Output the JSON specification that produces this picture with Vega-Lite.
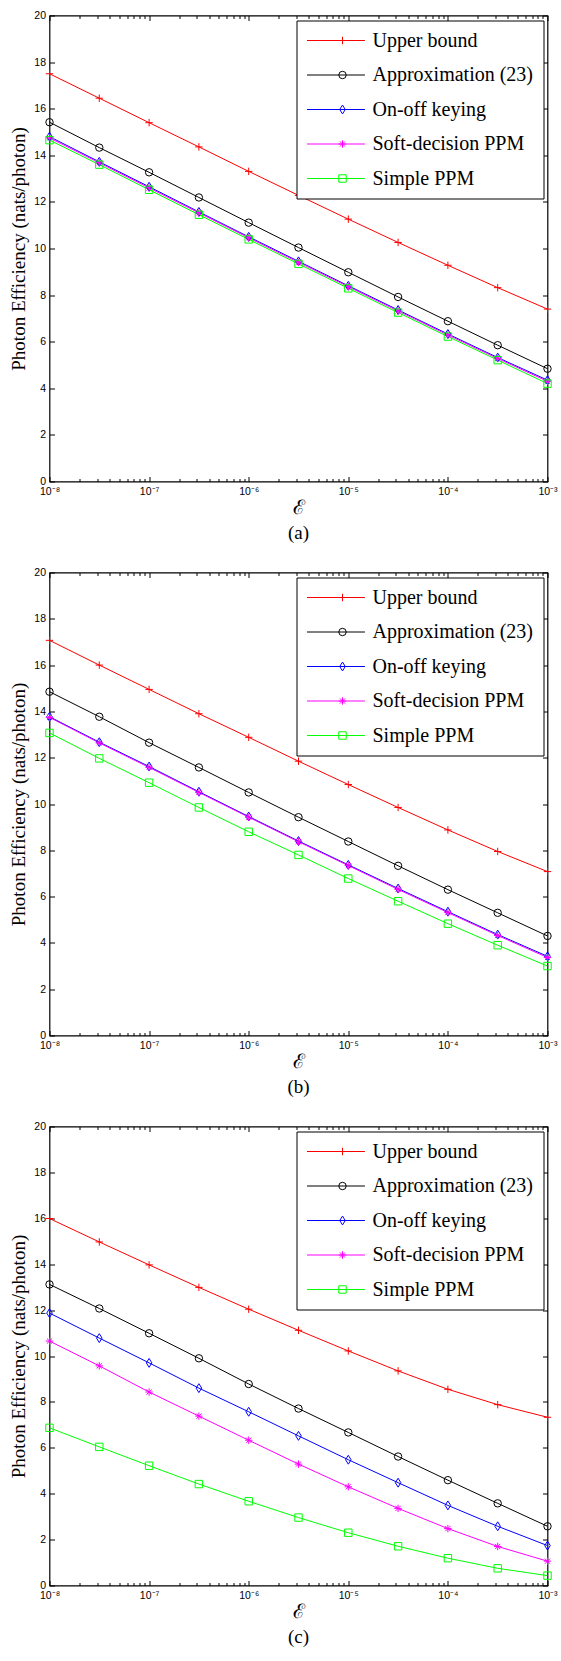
{
  "$schema": "https://vega.github.io/schema/vega-lite/v6.json",
  "padding": {"left": 8.5, "top": 9.5, "right": 0, "bottom": 0},
  "background": "white",
  "spacing": 22,
  "resolve": {
    "scale": {"color": "independent", "stroke": "independent", "shape": "independent"},
    "legend": {"color": "independent", "stroke": "independent", "shape": "independent"}
  },
  "config": {
    "view": {"stroke": "black", "strokeWidth": 1.2},
    "axis": {"labelFont": "Liberation Sans", "labelFontSize": 10.5, "labelColor": "black", "tickColor": "black", "tickWidth": 1, "domain": false, "grid": false, "titleColor": "black", "titleFontWeight": "normal", "labelFlush": false, "labelOverlap": false},
    "legend": {"labelLimit": 400, "titleLimit": 400}
  },
  "datasets": {
    "a": [
      {"e":1e-8,"v":17.5,"s":"Upper bound"},{"e":3.162e-8,"v":16.45,"s":"Upper bound"},{"e":1e-7,"v":15.4,"s":"Upper bound"},{"e":3.162e-7,"v":14.36,"s":"Upper bound"},{"e":1e-6,"v":13.31,"s":"Upper bound"},{"e":3.162e-6,"v":12.28,"s":"Upper bound"},{"e":1e-5,"v":11.26,"s":"Upper bound"},{"e":3.162e-5,"v":10.26,"s":"Upper bound"},{"e":1e-4,"v":9.28,"s":"Upper bound"},{"e":3.162e-4,"v":8.32,"s":"Upper bound"},{"e":1e-3,"v":7.4,"s":"Upper bound"},
      {"e":1e-8,"v":15.42,"s":"Approximation (23)"},{"e":3.162e-8,"v":14.33,"s":"Approximation (23)"},{"e":1e-7,"v":13.27,"s":"Approximation (23)"},{"e":3.162e-7,"v":12.19,"s":"Approximation (23)"},{"e":1e-6,"v":11.11,"s":"Approximation (23)"},{"e":3.162e-6,"v":10.04,"s":"Approximation (23)"},{"e":1e-5,"v":8.98,"s":"Approximation (23)"},{"e":3.162e-5,"v":7.92,"s":"Approximation (23)"},{"e":1e-4,"v":6.88,"s":"Approximation (23)"},{"e":3.162e-4,"v":5.85,"s":"Approximation (23)"},{"e":1e-3,"v":4.84,"s":"Approximation (23)"},
      {"e":1e-8,"v":14.8,"s":"On-off keying"},{"e":3.162e-8,"v":13.72,"s":"On-off keying"},{"e":1e-7,"v":12.65,"s":"On-off keying"},{"e":3.162e-7,"v":11.57,"s":"On-off keying"},{"e":1e-6,"v":10.5,"s":"On-off keying"},{"e":3.162e-6,"v":9.45,"s":"On-off keying"},{"e":1e-5,"v":8.4,"s":"On-off keying"},{"e":3.162e-5,"v":7.36,"s":"On-off keying"},{"e":1e-4,"v":6.33,"s":"On-off keying"},{"e":3.162e-4,"v":5.32,"s":"On-off keying"},{"e":1e-3,"v":4.35,"s":"On-off keying"},
      {"e":1e-8,"v":14.75,"s":"Soft-decision PPM"},{"e":3.162e-8,"v":13.68,"s":"Soft-decision PPM"},{"e":1e-7,"v":12.6,"s":"Soft-decision PPM"},{"e":3.162e-7,"v":11.53,"s":"Soft-decision PPM"},{"e":1e-6,"v":10.46,"s":"Soft-decision PPM"},{"e":3.162e-6,"v":9.41,"s":"Soft-decision PPM"},{"e":1e-5,"v":8.36,"s":"Soft-decision PPM"},{"e":3.162e-5,"v":7.32,"s":"Soft-decision PPM"},{"e":1e-4,"v":6.29,"s":"Soft-decision PPM"},{"e":3.162e-4,"v":5.28,"s":"Soft-decision PPM"},{"e":1e-3,"v":4.3,"s":"Soft-decision PPM"},
      {"e":1e-8,"v":14.65,"s":"Simple PPM"},{"e":3.162e-8,"v":13.6,"s":"Simple PPM"},{"e":1e-7,"v":12.52,"s":"Simple PPM"},{"e":3.162e-7,"v":11.45,"s":"Simple PPM"},{"e":1e-6,"v":10.39,"s":"Simple PPM"},{"e":3.162e-6,"v":9.34,"s":"Simple PPM"},{"e":1e-5,"v":8.29,"s":"Simple PPM"},{"e":3.162e-5,"v":7.25,"s":"Simple PPM"},{"e":1e-4,"v":6.22,"s":"Simple PPM"},{"e":3.162e-4,"v":5.21,"s":"Simple PPM"},{"e":1e-3,"v":4.2,"s":"Simple PPM"}
    ],
    "b": [
      {"e":1e-8,"v":17.07,"s":"Upper bound"},{"e":3.162e-8,"v":16.0,"s":"Upper bound"},{"e":1e-7,"v":14.95,"s":"Upper bound"},{"e":3.162e-7,"v":13.9,"s":"Upper bound"},{"e":1e-6,"v":12.88,"s":"Upper bound"},{"e":3.162e-6,"v":11.85,"s":"Upper bound"},{"e":1e-5,"v":10.84,"s":"Upper bound"},{"e":3.162e-5,"v":9.85,"s":"Upper bound"},{"e":1e-4,"v":8.88,"s":"Upper bound"},{"e":3.162e-4,"v":7.95,"s":"Upper bound"},{"e":1e-3,"v":7.08,"s":"Upper bound"},
      {"e":1e-8,"v":14.85,"s":"Approximation (23)"},{"e":3.162e-8,"v":13.77,"s":"Approximation (23)"},{"e":1e-7,"v":12.65,"s":"Approximation (23)"},{"e":3.162e-7,"v":11.58,"s":"Approximation (23)"},{"e":1e-6,"v":10.5,"s":"Approximation (23)"},{"e":3.162e-6,"v":9.43,"s":"Approximation (23)"},{"e":1e-5,"v":8.38,"s":"Approximation (23)"},{"e":3.162e-5,"v":7.33,"s":"Approximation (23)"},{"e":1e-4,"v":6.3,"s":"Approximation (23)"},{"e":3.162e-4,"v":5.3,"s":"Approximation (23)"},{"e":1e-3,"v":4.3,"s":"Approximation (23)"},
      {"e":1e-8,"v":13.77,"s":"On-off keying"},{"e":3.162e-8,"v":12.67,"s":"On-off keying"},{"e":1e-7,"v":11.62,"s":"On-off keying"},{"e":3.162e-7,"v":10.53,"s":"On-off keying"},{"e":1e-6,"v":9.46,"s":"On-off keying"},{"e":3.162e-6,"v":8.4,"s":"On-off keying"},{"e":1e-5,"v":7.37,"s":"On-off keying"},{"e":3.162e-5,"v":6.35,"s":"On-off keying"},{"e":1e-4,"v":5.35,"s":"On-off keying"},{"e":3.162e-4,"v":4.36,"s":"On-off keying"},{"e":1e-3,"v":3.42,"s":"On-off keying"},
      {"e":1e-8,"v":13.74,"s":"Soft-decision PPM"},{"e":3.162e-8,"v":12.64,"s":"Soft-decision PPM"},{"e":1e-7,"v":11.58,"s":"Soft-decision PPM"},{"e":3.162e-7,"v":10.5,"s":"Soft-decision PPM"},{"e":1e-6,"v":9.43,"s":"Soft-decision PPM"},{"e":3.162e-6,"v":8.37,"s":"Soft-decision PPM"},{"e":1e-5,"v":7.34,"s":"Soft-decision PPM"},{"e":3.162e-5,"v":6.31,"s":"Soft-decision PPM"},{"e":1e-4,"v":5.31,"s":"Soft-decision PPM"},{"e":3.162e-4,"v":4.32,"s":"Soft-decision PPM"},{"e":1e-3,"v":3.37,"s":"Soft-decision PPM"},
      {"e":1e-8,"v":13.07,"s":"Simple PPM"},{"e":3.162e-8,"v":11.97,"s":"Simple PPM"},{"e":1e-7,"v":10.92,"s":"Simple PPM"},{"e":3.162e-7,"v":9.85,"s":"Simple PPM"},{"e":1e-6,"v":8.8,"s":"Simple PPM"},{"e":3.162e-6,"v":7.8,"s":"Simple PPM"},{"e":1e-5,"v":6.78,"s":"Simple PPM"},{"e":3.162e-5,"v":5.8,"s":"Simple PPM"},{"e":1e-4,"v":4.83,"s":"Simple PPM"},{"e":3.162e-4,"v":3.9,"s":"Simple PPM"},{"e":1e-3,"v":3.0,"s":"Simple PPM"}
    ],
    "c": [
      {"e":1e-8,"v":15.99,"s":"Upper bound"},{"e":3.162e-8,"v":14.97,"s":"Upper bound"},{"e":1e-7,"v":13.97,"s":"Upper bound"},{"e":3.162e-7,"v":12.99,"s":"Upper bound"},{"e":1e-6,"v":12.04,"s":"Upper bound"},{"e":3.162e-6,"v":11.12,"s":"Upper bound"},{"e":1e-5,"v":10.22,"s":"Upper bound"},{"e":3.162e-5,"v":9.35,"s":"Upper bound"},{"e":1e-4,"v":8.55,"s":"Upper bound"},{"e":3.162e-4,"v":7.88,"s":"Upper bound"},{"e":1e-3,"v":7.33,"s":"Upper bound"},
      {"e":1e-8,"v":13.12,"s":"Approximation (23)"},{"e":3.162e-8,"v":12.07,"s":"Approximation (23)"},{"e":1e-7,"v":10.99,"s":"Approximation (23)"},{"e":3.162e-7,"v":9.9,"s":"Approximation (23)"},{"e":1e-6,"v":8.78,"s":"Approximation (23)"},{"e":3.162e-6,"v":7.71,"s":"Approximation (23)"},{"e":1e-5,"v":6.67,"s":"Approximation (23)"},{"e":3.162e-5,"v":5.62,"s":"Approximation (23)"},{"e":1e-4,"v":4.59,"s":"Approximation (23)"},{"e":3.162e-4,"v":3.58,"s":"Approximation (23)"},{"e":1e-3,"v":2.58,"s":"Approximation (23)"},
      {"e":1e-8,"v":11.87,"s":"On-off keying"},{"e":3.162e-8,"v":10.78,"s":"On-off keying"},{"e":1e-7,"v":9.7,"s":"On-off keying"},{"e":3.162e-7,"v":8.6,"s":"On-off keying"},{"e":1e-6,"v":7.57,"s":"On-off keying"},{"e":3.162e-6,"v":6.52,"s":"On-off keying"},{"e":1e-5,"v":5.48,"s":"On-off keying"},{"e":3.162e-5,"v":4.48,"s":"On-off keying"},{"e":1e-4,"v":3.49,"s":"On-off keying"},{"e":3.162e-4,"v":2.58,"s":"On-off keying"},{"e":1e-3,"v":1.74,"s":"On-off keying"},
      {"e":1e-8,"v":10.65,"s":"Soft-decision PPM"},{"e":3.162e-8,"v":9.57,"s":"Soft-decision PPM"},{"e":1e-7,"v":8.43,"s":"Soft-decision PPM"},{"e":3.162e-7,"v":7.38,"s":"Soft-decision PPM"},{"e":1e-6,"v":6.33,"s":"Soft-decision PPM"},{"e":3.162e-6,"v":5.29,"s":"Soft-decision PPM"},{"e":1e-5,"v":4.3,"s":"Soft-decision PPM"},{"e":3.162e-5,"v":3.36,"s":"Soft-decision PPM"},{"e":1e-4,"v":2.48,"s":"Soft-decision PPM"},{"e":3.162e-4,"v":1.7,"s":"Soft-decision PPM"},{"e":1e-3,"v":1.06,"s":"Soft-decision PPM"},
      {"e":1e-8,"v":6.87,"s":"Simple PPM"},{"e":3.162e-8,"v":6.04,"s":"Simple PPM"},{"e":1e-7,"v":5.22,"s":"Simple PPM"},{"e":3.162e-7,"v":4.42,"s":"Simple PPM"},{"e":1e-6,"v":3.67,"s":"Simple PPM"},{"e":3.162e-6,"v":2.96,"s":"Simple PPM"},{"e":1e-5,"v":2.3,"s":"Simple PPM"},{"e":3.162e-5,"v":1.71,"s":"Simple PPM"},{"e":1e-4,"v":1.19,"s":"Simple PPM"},{"e":3.162e-4,"v":0.75,"s":"Simple PPM"},{"e":1e-3,"v":0.43,"s":"Simple PPM"}
    ]
  },
  "vconcat": [
    {
      "width": 498, "height": 466,
      "data": {"name": "a"},
      "title": {"text": "(a)", "orient": "bottom", "offset": 7, "font": "Liberation Serif", "fontSize": 19, "fontWeight": "normal", "color": "black"},
      "resolve": {"axis": {"x": "independent", "y": "independent"}},
      "layer": [
        {"mark": {"type": "line", "strokeWidth": 1},
         "encoding": {
           "x": {"field": "e", "type": "quantitative", "scale": {"type": "log", "domain": [1e-8, 1e-3], "nice": false}, "axis": {"orient": "bottom", "values": [1e-8,1e-7,1e-6,1e-5,1e-4,1e-3], "ticks": false, "labelPadding": 5, "labelExpr": "'10⁻' + ['⁰','¹','²','³','⁴','⁵','⁶','⁷','⁸','⁹'][round(-log(datum.value)/LN10)]", "title": "ℰ", "titleFont": "DejaVu Serif", "titleFontSize": 20, "titlePadding": 0}},
           "y": {"field": "v", "type": "quantitative", "scale": {"domain": [0, 20], "nice": false}, "axis": {"orient": "left", "values": [0,2,4,6,8,10,12,14,16,18,20], "ticks": false, "labelPadding": 4, "minExtent": 0, "title": "Photon Efficiency (nats/photon)", "titleFont": "Liberation Serif", "titleFontSize": 19, "titlePadding": 5}},
           "stroke": {"field": "s", "type": "nominal", "scale": {"domain": ["Upper bound","Approximation (23)","On-off keying","Soft-decision PPM","Simple PPM"], "range": ["#ff0000","#000000","#0000ff","#ff00ff","#00ff00"]}, "legend": {"orient": "none", "legendX": 247, "legendY": 5, "title": null, "padding": 10, "rowPadding": 14.5, "fillColor": "white", "strokeColor": "black", "symbolType": "M-1,0H5.1", "symbolSize": 361, "symbolStrokeWidth": 1, "labelFont": "Liberation Serif", "labelFontSize": 20, "labelColor": "black", "labelOffset": 46, "zindex": 0}}
         }},
        {"mark": {"type": "point", "filled": false, "size": 55, "strokeWidth": 1, "opacity": 1},
         "encoding": {
           "x": {"field": "e", "type": "quantitative", "axis": {"orient": "top", "offset": -466, "values": [1e-8,1e-7,1e-6,1e-5,1e-4,1e-3], "tickSize": 5, "labels": false, "title": null}},
           "y": {"field": "v", "type": "quantitative", "axis": {"orient": "right", "offset": -498, "minExtent": 0, "values": [0,2,4,6,8,10,12,14,16,18,20], "tickSize": 5, "labels": false, "title": null}},
           "color": {"field": "s", "type": "nominal", "sort": null, "scale": {"range": ["#ff0000","#000000","#0000ff","#ff00ff","#00ff00"]}, "legend": {"orient": "none", "legendX": 273, "legendY": 5, "title": null, "padding": 10, "rowPadding": 14.5, "symbolSize": 55, "symbolStrokeWidth": 1, "labelFont": "Liberation Serif", "labelFontSize": 20, "labelExpr": "''", "labelOffset": 31, "zindex": 1}},
           "shape": {"field": "s", "type": "nominal", "sort": null, "scale": {"range": ["M-1,0H1M0,-1V1", "circle", "M0,-1.2L0.75,0L0,1.2L-0.75,0Z", "M-1,0H1M0,-1V1M-0.7,-0.7L0.7,0.7M-0.7,0.7L0.7,-0.7", "square"]}, "legend": {"orient": "none", "legendX": 273, "legendY": 5, "title": null, "padding": 10, "rowPadding": 14.5, "symbolSize": 55, "symbolStrokeWidth": 1, "labelFont": "Liberation Serif", "labelFontSize": 20, "labelExpr": "''", "labelOffset": 31, "zindex": 1}}
         }},
        {"mark": {"type": "point", "opacity": 0},
         "encoding": {
           "x": {"field": "e", "type": "quantitative", "axis": {"orient": "top", "offset": -466, "values": [2e-8,3e-8,4e-8,5e-8,6e-8,7e-8,8e-8,9e-8,2e-7,3e-7,4e-7,5e-7,6e-7,7e-7,8e-7,9e-7,2e-6,3e-6,4e-6,5e-6,6e-6,7e-6,8e-6,9e-6,2e-5,3e-5,4e-5,5e-5,6e-5,7e-5,8e-5,9e-5,2e-4,3e-4,4e-4,5e-4,6e-4,7e-4,8e-4,9e-4], "tickSize": 3, "labels": false, "title": null}},
           "y": {"field": "v", "type": "quantitative", "axis": {"orient": "left", "offset": -498, "minExtent": 0, "values": [0,2,4,6,8,10,12,14,16,18,20], "tickSize": 5, "labels": false, "title": null}}
         }},
        {"mark": {"type": "point", "opacity": 0},
         "encoding": {
           "x": {"field": "e", "type": "quantitative", "axis": {"orient": "bottom", "offset": -466, "values": [1e-8,1e-7,1e-6,1e-5,1e-4,1e-3], "tickSize": 5, "labels": false, "title": null}},
           "y": {"field": "v", "type": "quantitative", "axis": null}
         }},
        {"mark": {"type": "point", "opacity": 0},
         "encoding": {
           "x": {"field": "e", "type": "quantitative", "axis": {"orient": "bottom", "offset": -466, "values": [2e-8,3e-8,4e-8,5e-8,6e-8,7e-8,8e-8,9e-8,2e-7,3e-7,4e-7,5e-7,6e-7,7e-7,8e-7,9e-7,2e-6,3e-6,4e-6,5e-6,6e-6,7e-6,8e-6,9e-6,2e-5,3e-5,4e-5,5e-5,6e-5,7e-5,8e-5,9e-5,2e-4,3e-4,4e-4,5e-4,6e-4,7e-4,8e-4,9e-4], "tickSize": 3, "labels": false, "title": null}},
           "y": {"field": "v", "type": "quantitative", "axis": null}
         }}
      ]
    },
    {
      "width": 498, "height": 463,
      "data": {"name": "b"},
      "title": {"text": "(b)", "orient": "bottom", "offset": 7, "font": "Liberation Serif", "fontSize": 19, "fontWeight": "normal", "color": "black"},
      "resolve": {"axis": {"x": "independent", "y": "independent"}},
      "layer": [
        {"mark": {"type": "line", "strokeWidth": 1},
         "encoding": {
           "x": {"field": "e", "type": "quantitative", "scale": {"type": "log", "domain": [1e-8, 1e-3], "nice": false}, "axis": {"orient": "bottom", "values": [1e-8,1e-7,1e-6,1e-5,1e-4,1e-3], "ticks": false, "labelPadding": 5, "labelExpr": "'10⁻' + ['⁰','¹','²','³','⁴','⁵','⁶','⁷','⁸','⁹'][round(-log(datum.value)/LN10)]", "title": "ℰ", "titleFont": "DejaVu Serif", "titleFontSize": 20, "titlePadding": 0}},
           "y": {"field": "v", "type": "quantitative", "scale": {"domain": [0, 20], "nice": false}, "axis": {"orient": "left", "values": [0,2,4,6,8,10,12,14,16,18,20], "ticks": false, "labelPadding": 4, "minExtent": 0, "title": "Photon Efficiency (nats/photon)", "titleFont": "Liberation Serif", "titleFontSize": 19, "titlePadding": 5}},
           "stroke": {"field": "s", "type": "nominal", "scale": {"domain": ["Upper bound","Approximation (23)","On-off keying","Soft-decision PPM","Simple PPM"], "range": ["#ff0000","#000000","#0000ff","#ff00ff","#00ff00"]}, "legend": {"orient": "none", "legendX": 247, "legendY": 5, "title": null, "padding": 10, "rowPadding": 14.5, "fillColor": "white", "strokeColor": "black", "symbolType": "M-1,0H5.1", "symbolSize": 361, "symbolStrokeWidth": 1, "labelFont": "Liberation Serif", "labelFontSize": 20, "labelColor": "black", "labelOffset": 46, "zindex": 0}}
         }},
        {"mark": {"type": "point", "filled": false, "size": 55, "strokeWidth": 1, "opacity": 1},
         "encoding": {
           "x": {"field": "e", "type": "quantitative", "axis": {"orient": "top", "offset": -463, "values": [1e-8,1e-7,1e-6,1e-5,1e-4,1e-3], "tickSize": 5, "labels": false, "title": null}},
           "y": {"field": "v", "type": "quantitative", "axis": {"orient": "right", "offset": -498, "minExtent": 0, "values": [0,2,4,6,8,10,12,14,16,18,20], "tickSize": 5, "labels": false, "title": null}},
           "color": {"field": "s", "type": "nominal", "sort": null, "scale": {"range": ["#ff0000","#000000","#0000ff","#ff00ff","#00ff00"]}, "legend": {"orient": "none", "legendX": 273, "legendY": 5, "title": null, "padding": 10, "rowPadding": 14.5, "symbolSize": 55, "symbolStrokeWidth": 1, "labelFont": "Liberation Serif", "labelFontSize": 20, "labelExpr": "''", "labelOffset": 31, "zindex": 1}},
           "shape": {"field": "s", "type": "nominal", "sort": null, "scale": {"range": ["M-1,0H1M0,-1V1", "circle", "M0,-1.2L0.75,0L0,1.2L-0.75,0Z", "M-1,0H1M0,-1V1M-0.7,-0.7L0.7,0.7M-0.7,0.7L0.7,-0.7", "square"]}, "legend": {"orient": "none", "legendX": 273, "legendY": 5, "title": null, "padding": 10, "rowPadding": 14.5, "symbolSize": 55, "symbolStrokeWidth": 1, "labelFont": "Liberation Serif", "labelFontSize": 20, "labelExpr": "''", "labelOffset": 31, "zindex": 1}}
         }},
        {"mark": {"type": "point", "opacity": 0},
         "encoding": {
           "x": {"field": "e", "type": "quantitative", "axis": {"orient": "top", "offset": -463, "values": [2e-8,3e-8,4e-8,5e-8,6e-8,7e-8,8e-8,9e-8,2e-7,3e-7,4e-7,5e-7,6e-7,7e-7,8e-7,9e-7,2e-6,3e-6,4e-6,5e-6,6e-6,7e-6,8e-6,9e-6,2e-5,3e-5,4e-5,5e-5,6e-5,7e-5,8e-5,9e-5,2e-4,3e-4,4e-4,5e-4,6e-4,7e-4,8e-4,9e-4], "tickSize": 3, "labels": false, "title": null}},
           "y": {"field": "v", "type": "quantitative", "axis": {"orient": "left", "offset": -498, "minExtent": 0, "values": [0,2,4,6,8,10,12,14,16,18,20], "tickSize": 5, "labels": false, "title": null}}
         }},
        {"mark": {"type": "point", "opacity": 0},
         "encoding": {
           "x": {"field": "e", "type": "quantitative", "axis": {"orient": "bottom", "offset": -463, "values": [1e-8,1e-7,1e-6,1e-5,1e-4,1e-3], "tickSize": 5, "labels": false, "title": null}},
           "y": {"field": "v", "type": "quantitative", "axis": null}
         }},
        {"mark": {"type": "point", "opacity": 0},
         "encoding": {
           "x": {"field": "e", "type": "quantitative", "axis": {"orient": "bottom", "offset": -463, "values": [2e-8,3e-8,4e-8,5e-8,6e-8,7e-8,8e-8,9e-8,2e-7,3e-7,4e-7,5e-7,6e-7,7e-7,8e-7,9e-7,2e-6,3e-6,4e-6,5e-6,6e-6,7e-6,8e-6,9e-6,2e-5,3e-5,4e-5,5e-5,6e-5,7e-5,8e-5,9e-5,2e-4,3e-4,4e-4,5e-4,6e-4,7e-4,8e-4,9e-4], "tickSize": 3, "labels": false, "title": null}},
           "y": {"field": "v", "type": "quantitative", "axis": null}
         }}
      ]
    },
    {
      "width": 498, "height": 459,
      "data": {"name": "c"},
      "title": {"text": "(c)", "orient": "bottom", "offset": 7, "font": "Liberation Serif", "fontSize": 19, "fontWeight": "normal", "color": "black"},
      "resolve": {"axis": {"x": "independent", "y": "independent"}},
      "layer": [
        {"mark": {"type": "line", "strokeWidth": 1},
         "encoding": {
           "x": {"field": "e", "type": "quantitative", "scale": {"type": "log", "domain": [1e-8, 1e-3], "nice": false}, "axis": {"orient": "bottom", "values": [1e-8,1e-7,1e-6,1e-5,1e-4,1e-3], "ticks": false, "labelPadding": 5, "labelExpr": "'10⁻' + ['⁰','¹','²','³','⁴','⁵','⁶','⁷','⁸','⁹'][round(-log(datum.value)/LN10)]", "title": "ℰ", "titleFont": "DejaVu Serif", "titleFontSize": 20, "titlePadding": 0}},
           "y": {"field": "v", "type": "quantitative", "scale": {"domain": [0, 20], "nice": false}, "axis": {"orient": "left", "values": [0,2,4,6,8,10,12,14,16,18,20], "ticks": false, "labelPadding": 4, "minExtent": 0, "title": "Photon Efficiency (nats/photon)", "titleFont": "Liberation Serif", "titleFontSize": 19, "titlePadding": 5}},
           "stroke": {"field": "s", "type": "nominal", "scale": {"domain": ["Upper bound","Approximation (23)","On-off keying","Soft-decision PPM","Simple PPM"], "range": ["#ff0000","#000000","#0000ff","#ff00ff","#00ff00"]}, "legend": {"orient": "none", "legendX": 247, "legendY": 5, "title": null, "padding": 10, "rowPadding": 14.5, "fillColor": "white", "strokeColor": "black", "symbolType": "M-1,0H5.1", "symbolSize": 361, "symbolStrokeWidth": 1, "labelFont": "Liberation Serif", "labelFontSize": 20, "labelColor": "black", "labelOffset": 46, "zindex": 0}}
         }},
        {"mark": {"type": "point", "filled": false, "size": 55, "strokeWidth": 1, "opacity": 1},
         "encoding": {
           "x": {"field": "e", "type": "quantitative", "axis": {"orient": "top", "offset": -459, "values": [1e-8,1e-7,1e-6,1e-5,1e-4,1e-3], "tickSize": 5, "labels": false, "title": null}},
           "y": {"field": "v", "type": "quantitative", "axis": {"orient": "right", "offset": -498, "minExtent": 0, "values": [0,2,4,6,8,10,12,14,16,18,20], "tickSize": 5, "labels": false, "title": null}},
           "color": {"field": "s", "type": "nominal", "sort": null, "scale": {"range": ["#ff0000","#000000","#0000ff","#ff00ff","#00ff00"]}, "legend": {"orient": "none", "legendX": 273, "legendY": 5, "title": null, "padding": 10, "rowPadding": 14.5, "symbolSize": 55, "symbolStrokeWidth": 1, "labelFont": "Liberation Serif", "labelFontSize": 20, "labelExpr": "''", "labelOffset": 31, "zindex": 1}},
           "shape": {"field": "s", "type": "nominal", "sort": null, "scale": {"range": ["M-1,0H1M0,-1V1", "circle", "M0,-1.2L0.75,0L0,1.2L-0.75,0Z", "M-1,0H1M0,-1V1M-0.7,-0.7L0.7,0.7M-0.7,0.7L0.7,-0.7", "square"]}, "legend": {"orient": "none", "legendX": 273, "legendY": 5, "title": null, "padding": 10, "rowPadding": 14.5, "symbolSize": 55, "symbolStrokeWidth": 1, "labelFont": "Liberation Serif", "labelFontSize": 20, "labelExpr": "''", "labelOffset": 31, "zindex": 1}}
         }},
        {"mark": {"type": "point", "opacity": 0},
         "encoding": {
           "x": {"field": "e", "type": "quantitative", "axis": {"orient": "top", "offset": -459, "values": [2e-8,3e-8,4e-8,5e-8,6e-8,7e-8,8e-8,9e-8,2e-7,3e-7,4e-7,5e-7,6e-7,7e-7,8e-7,9e-7,2e-6,3e-6,4e-6,5e-6,6e-6,7e-6,8e-6,9e-6,2e-5,3e-5,4e-5,5e-5,6e-5,7e-5,8e-5,9e-5,2e-4,3e-4,4e-4,5e-4,6e-4,7e-4,8e-4,9e-4], "tickSize": 3, "labels": false, "title": null}},
           "y": {"field": "v", "type": "quantitative", "axis": {"orient": "left", "offset": -498, "minExtent": 0, "values": [0,2,4,6,8,10,12,14,16,18,20], "tickSize": 5, "labels": false, "title": null}}
         }},
        {"mark": {"type": "point", "opacity": 0},
         "encoding": {
           "x": {"field": "e", "type": "quantitative", "axis": {"orient": "bottom", "offset": -459, "values": [1e-8,1e-7,1e-6,1e-5,1e-4,1e-3], "tickSize": 5, "labels": false, "title": null}},
           "y": {"field": "v", "type": "quantitative", "axis": null}
         }},
        {"mark": {"type": "point", "opacity": 0},
         "encoding": {
           "x": {"field": "e", "type": "quantitative", "axis": {"orient": "bottom", "offset": -459, "values": [2e-8,3e-8,4e-8,5e-8,6e-8,7e-8,8e-8,9e-8,2e-7,3e-7,4e-7,5e-7,6e-7,7e-7,8e-7,9e-7,2e-6,3e-6,4e-6,5e-6,6e-6,7e-6,8e-6,9e-6,2e-5,3e-5,4e-5,5e-5,6e-5,7e-5,8e-5,9e-5,2e-4,3e-4,4e-4,5e-4,6e-4,7e-4,8e-4,9e-4], "tickSize": 3, "labels": false, "title": null}},
           "y": {"field": "v", "type": "quantitative", "axis": null}
         }}
      ]
    }
  ]
}
